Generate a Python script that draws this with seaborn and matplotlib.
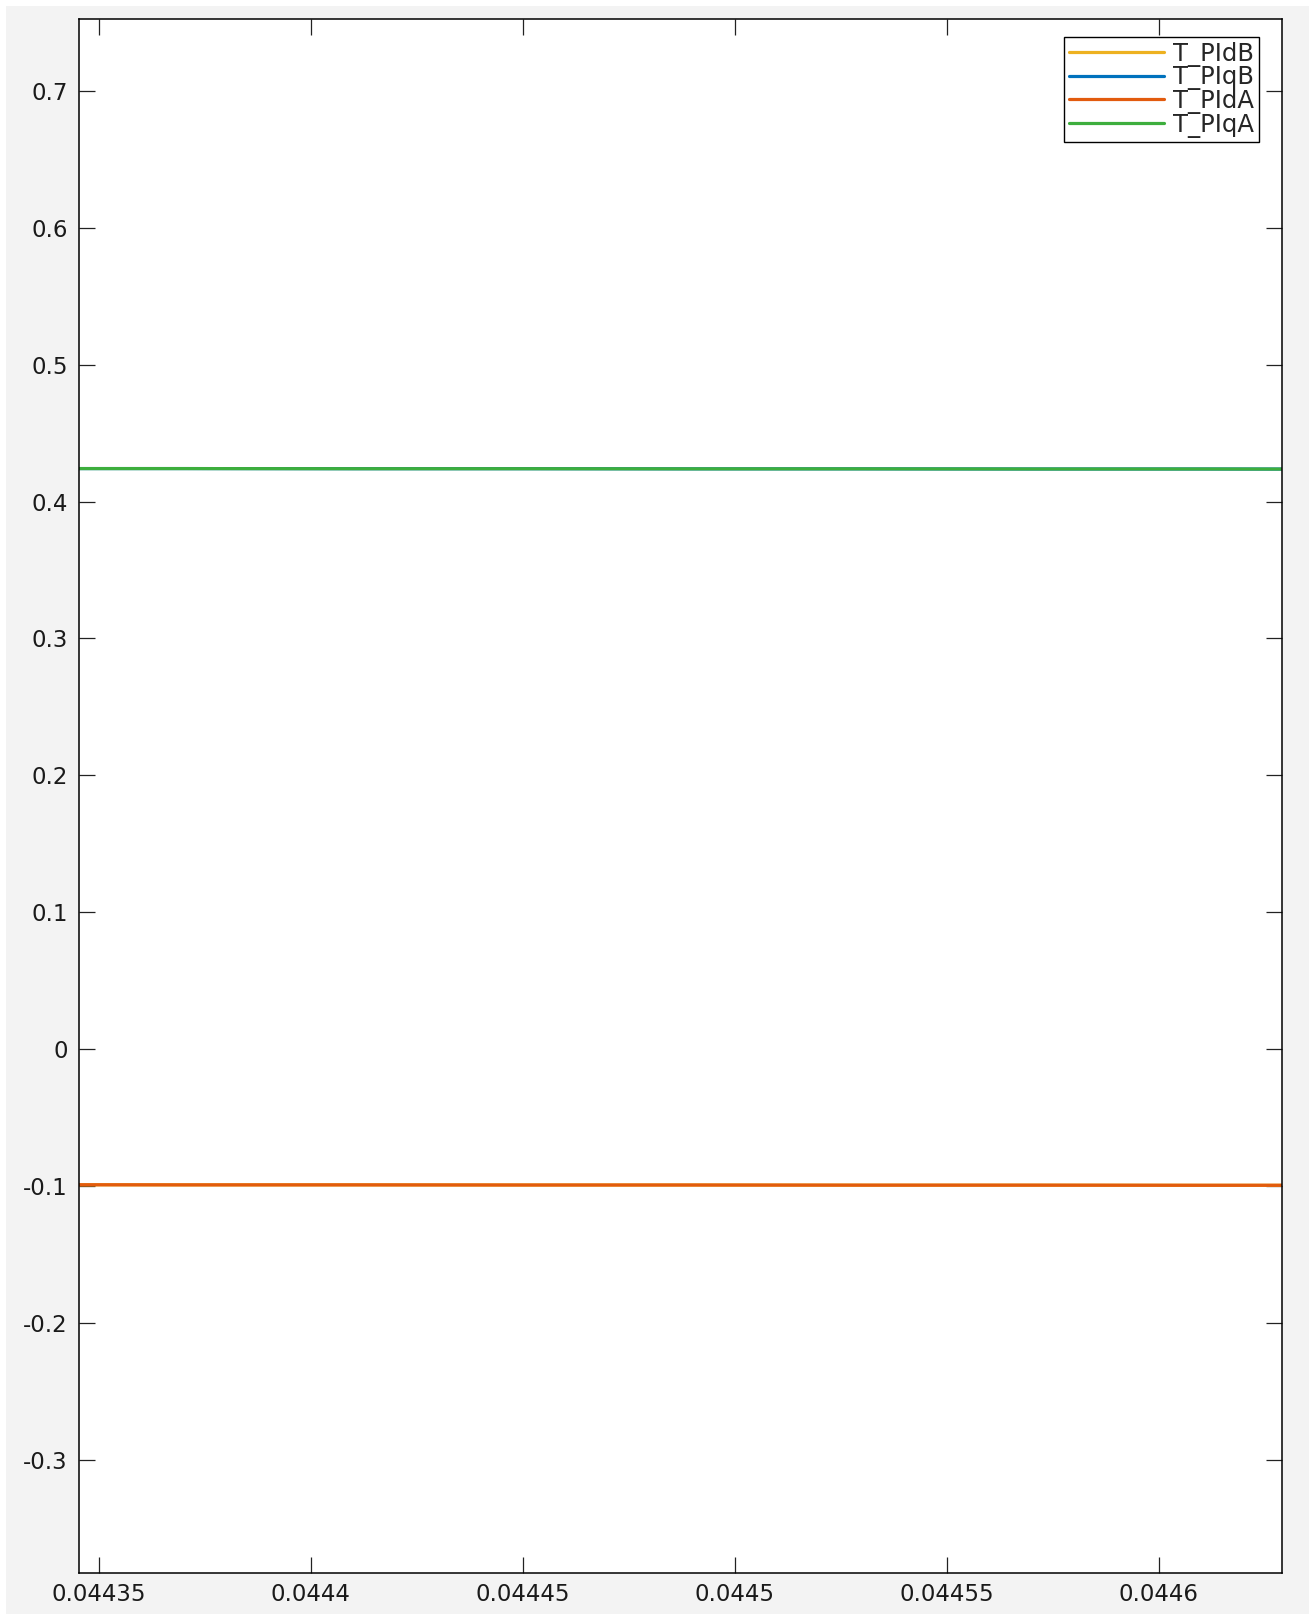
import numpy as np
import pandas as pd
import seaborn as sns
import matplotlib.pyplot as plt
from matplotlib.patches import Rectangle

# time samples and signal values
t = [0.04434, 0.04437, 0.04441, 0.04445, 0.04449, 0.04453, 0.04457, 0.04461, 0.04464]
T_PIdB = [-0.0992, -0.0993, -0.0993, -0.0994, -0.0994, -0.0995, -0.0995, -0.0996, -0.0996]
T_PIqB = [0.4241, 0.4241, 0.4240, 0.4240, 0.4239, 0.4239, 0.4238, 0.4238, 0.4237]
T_PIdA = [-0.0992, -0.0993, -0.0993, -0.0994, -0.0994, -0.0995, -0.0995, -0.0996, -0.0996]
T_PIqA = [0.4241, 0.4241, 0.4240, 0.4240, 0.4239, 0.4239, 0.4238, 0.4238, 0.4237]

names = ['T_PIdB', 'T_PIqB', 'T_PIdA', 'T_PIqA']
colors = ['#EDB120', '#0072BD', '#E25B0E', '#3DAE3D']

df = pd.concat([
    pd.DataFrame({'t': t, 'value': v, 'signal': n})
    for n, v in zip(names, [T_PIdB, T_PIqB, T_PIdA, T_PIqA])
])

sns.set_style('white')
plt.rcParams['font.family'] = ['DejaVu Sans']

fig = plt.figure(figsize=(13.09, 16.14), dpi=100)
fig.patch.set_facecolor('white')
fig.patches.append(Rectangle((6 / 1309, 0), 1, 1 - 6 / 1614, transform=fig.transFigure,
                             facecolor='#f3f3f3', edgecolor='none', zorder=-10))

ax = fig.add_axes([79 / 1309, 1 - 1573 / 1614, (1282 - 79) / 1309, (1573 - 19) / 1614])
ax.set_facecolor('white')

sns.lineplot(data=df, x='t', y='value', hue='signal', hue_order=names,
             palette=colors, linewidth=2.3, ax=ax, estimator=None)

ax.set_xlim(0.0443454, 0.0446291)
ax.set_ylim(-0.3829, 0.7526)
ax.set_xticks([0.04435, 0.0444, 0.04445, 0.0445, 0.04455, 0.0446])
ax.set_xticklabels(['0.04435', '0.0444', '0.04445', '0.0445', '0.04455', '0.0446'])
ax.set_yticks([-0.3, -0.2, -0.1, 0, 0.1, 0.2, 0.3, 0.4, 0.5, 0.6, 0.7])
ax.set_yticklabels(['-0.3', '-0.2', '-0.1', '0', '0.1', '0.2', '0.3', '0.4', '0.5', '0.6', '0.7'])
ax.set_xlabel('')
ax.set_ylabel('')

ax.tick_params(direction='in', length=11.5, width=0.9, labelsize=16.5,
               bottom=True, left=True, top=True, right=True,
               color='#222222', labelcolor='#1a1a1a')
ax.tick_params(axis='y', pad=8)
ax.tick_params(axis='x', pad=7)
for s in ax.spines.values():
    s.set_color('black')
    s.set_linewidth(1.1)

leg = ax.legend(loc='upper right', bbox_to_anchor=(0.981, 0.9884), borderaxespad=0,
                fontsize=17.5, handlelength=3.9, handletextpad=0.4, labelspacing=-0.06,
                borderpad=0.2, fancybox=False, framealpha=1, edgecolor='black')
leg.get_frame().set_linewidth(1.0)

plt.savefig('out.png', dpi=100)
